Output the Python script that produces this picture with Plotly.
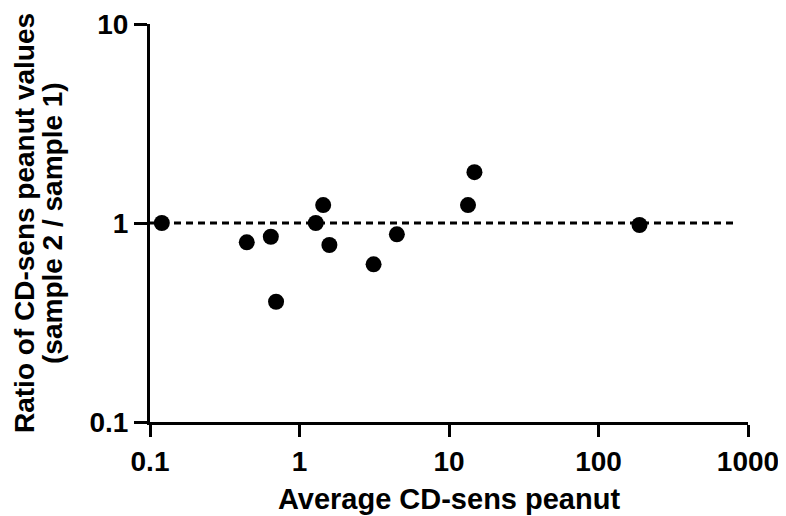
import plotly.graph_objects as go

avg_cd_sens = [0.12, 0.444, 0.643, 0.697, 1.285, 1.44, 1.585, 3.13, 4.48, 13.4, 14.8, 188]
ratio = [1.0, 0.80, 0.853, 0.402, 1.0, 1.23, 0.775, 0.62, 0.877, 1.23, 1.80, 0.977]

ref_x = [0.1, 800]
ref_y = [1, 1]

x_tickvals = [0.1, 1, 10, 100, 1000]
x_ticktext = ["0.1", "1", "10", "100", "1000"]
y_tickvals = [0.1, 1, 10]
y_ticktext = ["0.1", "1", "10"]

x_title = "Average CD-sens peanut"
y_title_lines = ["Ratio of CD-sens peanut values", "(sample 2 / sample 1)"]

FONT = "Arial, Liberation Sans, sans-serif"
FS_TICK = 28
FS_TITLE = 29
FS_YTITLE = 28

fig = go.Figure()
fig.add_trace(go.Scatter(
    x=ref_x, y=ref_y, mode="lines",
    line=dict(color="black", width=3, dash="7px,5px"),
    hoverinfo="skip", showlegend=False,
))
fig.add_trace(go.Scatter(
    x=avg_cd_sens, y=ratio, mode="markers",
    marker=dict(color="black", size=16, line=dict(width=0)),
    showlegend=False, cliponaxis=False,
))

axis_common = dict(
    showline=True, linecolor="black", linewidth=3,
    ticks="outside", tickcolor="black", tickwidth=3,
    showgrid=False, zeroline=False, automargin=False,
    tickfont=dict(family=FONT, size=FS_TICK, color="black", weight="bold"),
)

fig.update_layout(
    width=778, height=508,
    margin=dict(l=142, r=38, t=16, b=94),
    paper_bgcolor="white", plot_bgcolor="white",
    xaxis=dict(
        type="log", range=[-1, 3],
        tickvals=x_tickvals, ticktext=x_ticktext, ticklen=12,
        title=dict(text=x_title, standoff=14,
                   font=dict(family=FONT, size=FS_TITLE, color="black", weight="bold")),
        **axis_common,
    ),
    yaxis=dict(
        type="log", range=[-1, 1],
        tickvals=y_tickvals, ticktext=y_ticktext, ticklen=13,
        **axis_common,
    ),
)

for xpos, line in zip([-0.2107, -0.1639], y_title_lines):
    fig.add_annotation(
        text=line, xref="paper", yref="paper", x=xpos, y=0.5,
        xanchor="center", yanchor="middle", textangle=-90, showarrow=False,
        font=dict(family=FONT, size=FS_YTITLE, color="black", weight="bold"),
    )

fig.write_html("out.html")
